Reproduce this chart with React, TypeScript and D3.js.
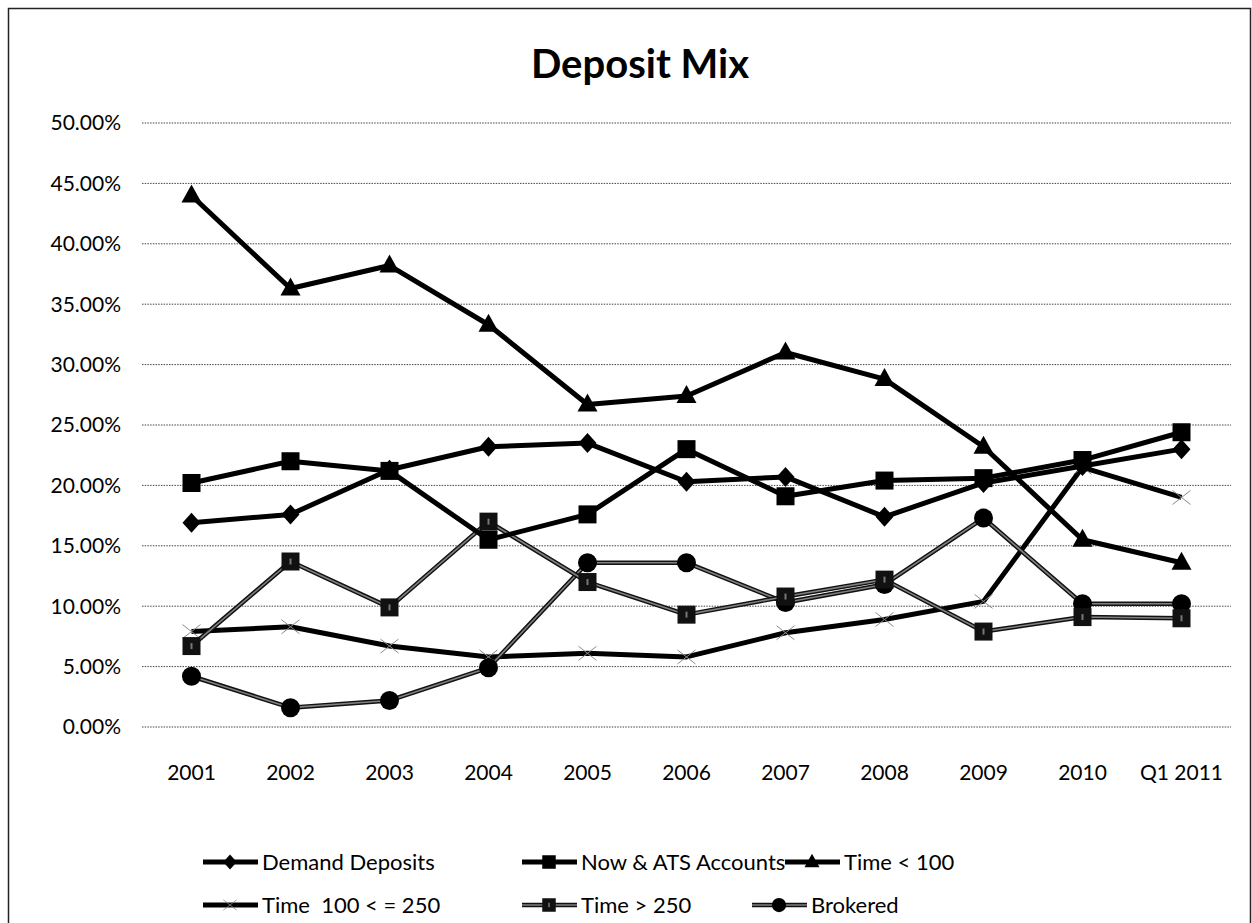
import * as d3 from "d3";

const categories = ["2001", "2002", "2003", "2004", "2005", "2006", "2007", "2008", "2009", "2010", "Q1 2011"];

const demandDeposits = [16.9, 17.6, 21.3, 23.2, 23.5, 20.3, 20.7, 17.4, 20.2, 21.6, 23.0];
const nowAts = [20.2, 22.0, 21.2, 15.5, 17.6, 23.0, 19.1, 20.4, 20.6, 22.1, 24.4];
const timeUnder100 = [44.0, 36.3, 38.2, 33.3, 26.7, 27.4, 31.0, 28.8, 23.2, 15.5, 13.6];
const time100to250 = [7.9, 8.3, 6.7, 5.8, 6.1, 5.8, 7.8, 8.9, 10.4, 21.5, 19.0];
const timeOver250 = [6.7, 13.7, 9.9, 17.0, 12.0, 9.3, 10.8, 12.2, 7.9, 9.1, 9.0];
const brokered = [4.2, 1.6, 2.2, 4.9, 13.6, 13.6, 10.3, 11.8, 17.3, 10.2, 10.2];

const yTicks = [0, 5, 10, 15, 20, 25, 30, 35, 40, 45, 50];

type Marker = "diamond" | "square" | "triangle" | "cross" | "smallSquare" | "circle";

interface Series {
  name: string;
  values: number[];
  marker: Marker;
  thin: boolean;
}

const series: Series[] = [
  { name: "Time  100 < = 250", values: time100to250, marker: "cross", thin: false },
  { name: "Brokered", values: brokered, marker: "circle", thin: true },
  { name: "Time > 250", values: timeOver250, marker: "smallSquare", thin: true },
  { name: "Demand Deposits", values: demandDeposits, marker: "diamond", thin: false },
  { name: "Now & ATS Accounts", values: nowAts, marker: "square", thin: false },
  { name: "Time < 100", values: timeUnder100, marker: "triangle", thin: false },
];

// legend order, two rows of three
const legendOrder = [
  "Demand Deposits",
  "Now & ATS Accounts",
  "Time < 100",
  "Time  100 < = 250",
  "Time > 250",
  "Brokered",
];

const W = 1252;
const H = 923;
const FONT = "Lato, 'Open Sans', sans-serif";

function MarkerShape({ type, x, y, s = 1 }: { type: Marker; x: number; y: number; s?: number }) {
  const t = `translate(${x},${y}) scale(${s})`;
  switch (type) {
    case "diamond":
      return <path transform={t} d="M0,-10L9,0L0,10L-9,0Z" fill="#000" />;
    case "square":
      return <rect transform={t} x={-9} y={-9} width={18} height={18} fill="#000" />;
    case "triangle":
      return <path transform={t} d="M0,-11L10,7L-10,7Z" fill="#000" />;
    case "cross":
      return (
        <g transform={t} stroke="#8a8a8a" strokeWidth={1}>
          <line x1={-9} y1={-7} x2={9} y2={7} />
          <line x1={-9} y1={7} x2={9} y2={-7} />
        </g>
      );
    case "smallSquare":
      return (
        <g transform={t}>
          <rect x={-9} y={-9} width={18} height={18} fill="#111" />
          <rect x={-1} y={-3} width={2} height={6} fill="#777" />
        </g>
      );
    case "circle":
      return <circle transform={t} r={9.5} fill="#000" />;
  }
}

export default function App() {
  const x = d3.scaleBand<string>().domain(categories).range([142, 1231]);
  const cx = (c: string) => (x(c) ?? 0) + x.bandwidth() / 2;
  const y = d3.scaleLinear().domain([0, 50]).range([727, 123]);
  const fmt = (v: number) => d3.format(".2f")(v) + "%";

  const line = d3
    .line<number>()
    .x((_, i) => cx(categories[i]))
    .y((d) => y(d));

  const legendPos = [
    { x: 203, y: 862 },
    { x: 522, y: 862 },
    { x: 785, y: 862 },
    { x: 203, y: 905 },
    { x: 522, y: 905 },
    { x: 752, y: 905 },
  ];
  const byName = (n: string) => series.find((s) => s.name === n)!;

  return (
    <svg
      width={W}
      height={H}
      style={{ position: "absolute", left: 0, top: 0, background: "#fff" }}
      fontFamily={FONT}
    >
      <rect x={8.5} y={8.5} width={W - 10} height={H + 10} fill="#fff" stroke="#222" strokeWidth={1.5} />

      <text x={640} y={78} textAnchor="middle" fontSize={40} fontWeight="bold" fill="#000">
        Deposit Mix
      </text>

      {yTicks.map((t) => (
        <g key={t}>
          <line
            x1={142}
            x2={1231}
            y1={y(t)}
            y2={y(t)}
            stroke="#444"
            strokeWidth={1}
            strokeDasharray="1.5,1.2"
          />
          <text x={121} y={y(t)} dy="0.35em" textAnchor="end" fontSize={21} fill="#000">
            {fmt(t)}
          </text>
        </g>
      ))}

      {categories.map((c) => (
        <text key={c} x={cx(c)} y={780} textAnchor="middle" fontSize={21} fill="#000">
          {c}
        </text>
      ))}

      {series.map((s) => (
        <g key={s.name}>
          {s.thin ? (
            <>
              <path d={line(s.values) ?? ""} fill="none" stroke="#111" strokeWidth={4.5} strokeLinejoin="round" />
              <path d={line(s.values) ?? ""} fill="none" stroke="#808080" strokeWidth={1.6} strokeLinejoin="round" />
            </>
          ) : (
            <path d={line(s.values) ?? ""} fill="none" stroke="#000" strokeWidth={5} strokeLinejoin="round" />
          )}
          {s.values.map((v, i) => (
            <MarkerShape key={i} type={s.marker} x={cx(categories[i])} y={y(v)} />
          ))}
        </g>
      ))}

      {legendOrder.map((name, i) => {
        const s = byName(name);
        const p = legendPos[i];
        return (
          <g key={name}>
            {s.thin ? (
              <>
                <line x1={p.x} x2={p.x + 55} y1={p.y} y2={p.y} stroke="#111" strokeWidth={4.5} />
                <line x1={p.x} x2={p.x + 55} y1={p.y} y2={p.y} stroke="#808080" strokeWidth={1.6} />
              </>
            ) : (
              <line x1={p.x} x2={p.x + 55} y1={p.y} y2={p.y} stroke="#000" strokeWidth={5} />
            )}
            <MarkerShape type={s.marker} x={p.x + 27} y={p.y} s={0.75} />
            <text x={p.x + 59} y={p.y} dy="0.35em" fontSize={22} fill="#000" style={{ whiteSpace: "pre" }}>
              {name}
            </text>
          </g>
        );
      })}
    </svg>
  );
}
